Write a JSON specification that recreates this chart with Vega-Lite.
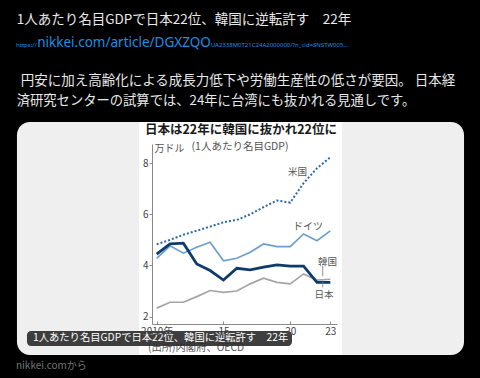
{
  "$schema": "https://vega.github.io/schema/vega-lite/v6.json",
  "width": 185,
  "height": 180,
  "autosize": {"type": "none"},
  "padding": {"left": 152, "top": 144, "right": 143, "bottom": 54},
  "background": "#000000",
  "config": {
    "view": {"stroke": null},
    "text": {"font": "Noto Sans CJK JP"}
  },
  "datasets": {
    "gdp": [
      {"country": "日本", "year": 2010, "gdp": 4.44},
      {"country": "日本", "year": 2011, "gdp": 4.84},
      {"country": "日本", "year": 2012, "gdp": 4.87},
      {"country": "日本", "year": 2013, "gdp": 4.06},
      {"country": "日本", "year": 2014, "gdp": 3.80},
      {"country": "日本", "year": 2015, "gdp": 3.43},
      {"country": "日本", "year": 2016, "gdp": 3.89},
      {"country": "日本", "year": 2017, "gdp": 3.83},
      {"country": "日本", "year": 2018, "gdp": 3.93},
      {"country": "日本", "year": 2019, "gdp": 4.02},
      {"country": "日本", "year": 2020, "gdp": 3.97},
      {"country": "日本", "year": 2021, "gdp": 3.97},
      {"country": "日本", "year": 2022, "gdp": 3.34},
      {"country": "日本", "year": 2023, "gdp": 3.34},
      {"country": "韓国", "year": 2010, "gdp": 2.33},
      {"country": "韓国", "year": 2011, "gdp": 2.56},
      {"country": "韓国", "year": 2012, "gdp": 2.56},
      {"country": "韓国", "year": 2013, "gdp": 2.78},
      {"country": "韓国", "year": 2014, "gdp": 3.02},
      {"country": "韓国", "year": 2015, "gdp": 2.95},
      {"country": "韓国", "year": 2016, "gdp": 3.00},
      {"country": "韓国", "year": 2017, "gdp": 3.28},
      {"country": "韓国", "year": 2018, "gdp": 3.50},
      {"country": "韓国", "year": 2019, "gdp": 3.34},
      {"country": "韓国", "year": 2020, "gdp": 3.28},
      {"country": "韓国", "year": 2021, "gdp": 3.67},
      {"country": "韓国", "year": 2022, "gdp": 3.43},
      {"country": "韓国", "year": 2023, "gdp": 3.46},
      {"country": "ドイツ", "year": 2010, "gdp": 4.28},
      {"country": "ドイツ", "year": 2011, "gdp": 4.77},
      {"country": "ドイツ", "year": 2012, "gdp": 4.48},
      {"country": "ドイツ", "year": 2013, "gdp": 4.71},
      {"country": "ドイツ", "year": 2014, "gdp": 4.91},
      {"country": "ドイツ", "year": 2015, "gdp": 4.18},
      {"country": "ドイツ", "year": 2016, "gdp": 4.28},
      {"country": "ドイツ", "year": 2017, "gdp": 4.52},
      {"country": "ドイツ", "year": 2018, "gdp": 4.84},
      {"country": "ドイツ", "year": 2019, "gdp": 4.74},
      {"country": "ドイツ", "year": 2020, "gdp": 4.74},
      {"country": "ドイツ", "year": 2021, "gdp": 5.23},
      {"country": "ドイツ", "year": 2022, "gdp": 4.97},
      {"country": "ドイツ", "year": 2023, "gdp": 5.35},
      {"country": "米国", "year": 2010, "gdp": 4.83},
      {"country": "米国", "year": 2011, "gdp": 5.00},
      {"country": "米国", "year": 2012, "gdp": 5.20},
      {"country": "米国", "year": 2013, "gdp": 5.36},
      {"country": "米国", "year": 2014, "gdp": 5.52},
      {"country": "米国", "year": 2015, "gdp": 5.69},
      {"country": "米国", "year": 2016, "gdp": 5.78},
      {"country": "米国", "year": 2017, "gdp": 6.00},
      {"country": "米国", "year": 2018, "gdp": 6.28},
      {"country": "米国", "year": 2019, "gdp": 6.54},
      {"country": "米国", "year": 2020, "gdp": 6.46},
      {"country": "米国", "year": 2021, "gdp": 7.22},
      {"country": "米国", "year": 2022, "gdp": 7.80},
      {"country": "米国", "year": 2023, "gdp": 8.23}
    ]
  },
  "layer": [
    {
      "data": {"values": [{"item": "card"}]},
      "mark": {"type": "rect", "fill": "#efefef", "cornerRadius": 13},
      "encoding": {
        "x": {
          "datum": 1999.54, "type": "quantitative",
          "scale": {"domain": [2009.65, 2023.5], "nice": false, "zero": false},
          "axis": {
            "values": [2010, 2015, 2020, 2023],
            "labelExpr": "datum.value == 2010 ? '2010年' : slice(toString(datum.value), 2)",
            "title": null, "grid": false, "zindex": 1,
            "tickSize": -3, "labelPadding": 5, "labelFlush": false,
            "domainColor": "#8a8a8a", "tickColor": "#8a8a8a",
            "labelColor": "#444444", "labelFontSize": 10, "labelFont": "Noto Sans CJK JP"
          }
        },
        "x2": {"datum": 2033.01},
        "y": {
          "datum": 9.61, "type": "quantitative",
          "scale": {"domain": [1.71, 8.75], "nice": false, "zero": false},
          "axis": {
            "values": [2, 4, 6, 8],
            "title": "万ドル", "titleAngle": 0, "titleAlign": "left", "titleBaseline": "middle",
            "titleX": 2, "titleY": 4, "titleFontSize": 10, "titleFontWeight": "normal",
            "titleColor": "#555555", "titleFont": "Noto Sans CJK JP",
            "grid": false, "zindex": 1,
            "tickSize": 3, "labelPadding": 1,
            "domainColor": "#8a8a8a", "tickColor": "#8a8a8a",
            "labelColor": "#444444", "labelFontSize": 10, "labelFont": "Noto Sans CJK JP"
          }
        },
        "y2": {"datum": 0.498}
      }
    },
    {
      "data": {"values": [{"item": "image"}]},
      "mark": {"type": "rect", "fill": "#ffffff"},
      "encoding": {
        "x": {"datum": 2008.68, "type": "quantitative", "scale": {"domain": [2009.65, 2023.5], "nice": false, "zero": false}},
        "x2": {"datum": 2023.87},
        "y": {"datum": 9.61, "type": "quantitative", "scale": {"domain": [1.71, 8.75], "nice": false, "zero": false}},
        "y2": {"datum": 0.498}
      }
    },
    {
      "data": {"name": "gdp"},
      "transform": [{"filter": "datum.country === '韓国'"}],
      "mark": {"type": "line", "color": "#a5a5a5", "strokeWidth": 1.7},
      "encoding": {
        "x": {"field": "year", "type": "quantitative", "scale": {"domain": [2009.65, 2023.5], "nice": false, "zero": false}},
        "y": {"field": "gdp", "type": "quantitative", "scale": {"domain": [1.71, 8.75], "nice": false, "zero": false}}
      }
    },
    {
      "data": {"name": "gdp"},
      "transform": [{"filter": "datum.country === 'ドイツ'"}],
      "mark": {"type": "line", "color": "#6a9fd0", "strokeWidth": 1.7},
      "encoding": {
        "x": {"field": "year", "type": "quantitative", "scale": {"domain": [2009.65, 2023.5], "nice": false, "zero": false}},
        "y": {"field": "gdp", "type": "quantitative", "scale": {"domain": [1.71, 8.75], "nice": false, "zero": false}}
      }
    },
    {
      "data": {"name": "gdp"},
      "transform": [{"filter": "datum.country === '米国'"}],
      "mark": {"type": "line", "color": "#2a6aa6", "strokeWidth": 2, "strokeDash": [2, 2]},
      "encoding": {
        "x": {"field": "year", "type": "quantitative", "scale": {"domain": [2009.65, 2023.5], "nice": false, "zero": false}},
        "y": {"field": "gdp", "type": "quantitative", "scale": {"domain": [1.71, 8.75], "nice": false, "zero": false}}
      }
    },
    {
      "data": {"name": "gdp"},
      "transform": [{"filter": "datum.country === '日本'"}],
      "mark": {"type": "line", "color": "#0f3b6c", "strokeWidth": 2.8},
      "encoding": {
        "x": {"field": "year", "type": "quantitative", "scale": {"domain": [2009.65, 2023.5], "nice": false, "zero": false}},
        "y": {"field": "gdp", "type": "quantitative", "scale": {"domain": [1.71, 8.75], "nice": false, "zero": false}}
      }
    },
    {
      "data": {"values": [{"t": "日本は22年に韓国に抜かれ22位に"}]},
      "mark": {"type": "text", "fontSize": 12.5, "fontWeight": "bold", "color": "#1a1a1a", "align": "center", "baseline": "middle"},
      "encoding": {
        "text": {"field": "t"},
        "x": {"datum": 2016.31, "type": "quantitative", "scale": {"domain": [2009.65, 2023.5], "nice": false, "zero": false}},
        "y": {"datum": 9.298, "type": "quantitative", "scale": {"domain": [1.71, 8.75], "nice": false, "zero": false}}
      }
    },
    {
      "data": {"values": [{"t": "(1人あたり名目GDP)"}]},
      "mark": {"type": "text", "fontSize": 10.5, "color": "#555555", "align": "center", "baseline": "middle"},
      "encoding": {
        "text": {"field": "t"},
        "x": {"datum": 2016.24, "type": "quantitative", "scale": {"domain": [2009.65, 2023.5], "nice": false, "zero": false}},
        "y": {"datum": 8.644, "type": "quantitative", "scale": {"domain": [1.71, 8.75], "nice": false, "zero": false}}
      }
    },
    {
      "data": {"values": [{"t": "米国"}]},
      "mark": {"type": "text", "fontSize": 9.5, "color": "#555555", "align": "center", "baseline": "middle"},
      "encoding": {
        "text": {"field": "t"},
        "x": {"datum": 2020.54, "type": "quantitative", "scale": {"domain": [2009.65, 2023.5], "nice": false, "zero": false}},
        "y": {"datum": 7.667, "type": "quantitative", "scale": {"domain": [1.71, 8.75], "nice": false, "zero": false}}
      }
    },
    {
      "data": {"values": [{"t": "ドイツ"}]},
      "mark": {"type": "text", "fontSize": 10, "color": "#555555", "align": "center", "baseline": "middle"},
      "encoding": {
        "text": {"field": "t"},
        "x": {"datum": 2021.33, "type": "quantitative", "scale": {"domain": [2009.65, 2023.5], "nice": false, "zero": false}},
        "y": {"datum": 5.504, "type": "quantitative", "scale": {"domain": [1.71, 8.75], "nice": false, "zero": false}}
      }
    },
    {
      "data": {"values": [{"t": "韓国"}]},
      "mark": {"type": "text", "fontSize": 9.5, "color": "#555555", "align": "center", "baseline": "middle"},
      "encoding": {
        "text": {"field": "t"},
        "x": {"datum": 2022.79, "type": "quantitative", "scale": {"domain": [2009.65, 2023.5], "nice": false, "zero": false}},
        "y": {"datum": 4.135, "type": "quantitative", "scale": {"domain": [1.71, 8.75], "nice": false, "zero": false}}
      }
    },
    {
      "data": {"values": [{"t": "日本"}]},
      "mark": {"type": "text", "fontSize": 9.5, "color": "#555555", "align": "center", "baseline": "middle"},
      "encoding": {
        "text": {"field": "t"},
        "x": {"datum": 2022.53, "type": "quantitative", "scale": {"domain": [2009.65, 2023.5], "nice": false, "zero": false}},
        "y": {"datum": 2.845, "type": "quantitative", "scale": {"domain": [1.71, 8.75], "nice": false, "zero": false}}
      }
    },
    {
      "data": {"values": [{"t": "韓国"}]},
      "mark": {"type": "rule", "color": "#777777", "strokeWidth": 0.8},
      "encoding": {
        "x": {"datum": 2022.43, "type": "quantitative", "scale": {"domain": [2009.65, 2023.5], "nice": false, "zero": false}},
        "y": {"datum": 4.0, "type": "quantitative", "scale": {"domain": [1.71, 8.75], "nice": false, "zero": false}},
        "y2": {"datum": 3.575}
      }
    },
    {
      "data": {"values": [{"t": "日本"}]},
      "mark": {"type": "rule", "color": "#777777", "strokeWidth": 0.8},
      "encoding": {
        "x": {"datum": 2022.43, "type": "quantitative", "scale": {"domain": [2009.65, 2023.5], "nice": false, "zero": false}},
        "y": {"datum": 3.41, "type": "quantitative", "scale": {"domain": [1.71, 8.75], "nice": false, "zero": false}},
        "y2": {"datum": 3.14}
      }
    },
    {
      "data": {"values": [{"t": "(出所)内閣府、OECD"}]},
      "mark": {"type": "text", "fontSize": 10.3, "color": "#555555", "align": "left", "baseline": "middle"},
      "encoding": {
        "text": {"field": "t"},
        "x": {"datum": 2009.35, "type": "quantitative", "scale": {"domain": [2009.65, 2023.5], "nice": false, "zero": false}},
        "y": {"datum": 0.76, "type": "quantitative", "scale": {"domain": [1.71, 8.75], "nice": false, "zero": false}}
      }
    },
    {
      "data": {"values": [{"t": "1人あたり名目GDPで日本22位、韓国に逆転許す　22年"}]},
      "mark": {"type": "text", "fontSize": 13.5, "color": "#e7e9ea", "align": "left", "baseline": "middle"},
      "encoding": {
        "text": {"field": "t"},
        "x": {"datum": 1999.52, "type": "quantitative", "scale": {"domain": [2009.65, 2023.5], "nice": false, "zero": false}},
        "y": {"datum": 13.599, "type": "quantitative", "scale": {"domain": [1.71, 8.75], "nice": false, "zero": false}}
      }
    },
    {
      "data": {"values": [{"t": "https://"}]},
      "mark": {"type": "text", "fontSize": 6, "color": "#1d8fe0", "align": "left", "baseline": "alphabetic", "font": "Noto Sans"},
      "encoding": {
        "text": {"field": "t"},
        "x": {"datum": 1999.47, "type": "quantitative", "scale": {"domain": [2009.65, 2023.5], "nice": false, "zero": false}},
        "y": {"datum": 12.532, "type": "quantitative", "scale": {"domain": [1.71, 8.75], "nice": false, "zero": false}}
      }
    },
    {
      "data": {"values": [{"t": "nikkei.com/article/DGXZQO"}]},
      "mark": {"type": "text", "fontSize": 13.5, "color": "#1d8fe0", "align": "left", "baseline": "alphabetic", "font": "Noto Sans"},
      "encoding": {
        "text": {"field": "t"},
        "x": {"datum": 2001.06, "type": "quantitative", "scale": {"domain": [2009.65, 2023.5], "nice": false, "zero": false}},
        "y": {"datum": 12.532, "type": "quantitative", "scale": {"domain": [1.71, 8.75], "nice": false, "zero": false}}
      }
    },
    {
      "data": {"values": [{"t": "UA2338M0T21C24A2000000/?n_cid=SNSTW005…"}]},
      "mark": {"type": "text", "fontSize": 6, "color": "#1d8fe0", "align": "left", "baseline": "alphabetic", "font": "Noto Sans"},
      "encoding": {
        "text": {"field": "t"},
        "x": {"datum": 2014.05, "type": "quantitative", "scale": {"domain": [2009.65, 2023.5], "nice": false, "zero": false}},
        "y": {"datum": 12.532, "type": "quantitative", "scale": {"domain": [1.71, 8.75], "nice": false, "zero": false}}
      }
    },
    {
      "data": {"values": [{"t": "円安に加え高齢化による成長力低下や労働生産性の低さが要因。 日本経"}]},
      "mark": {"type": "text", "fontSize": 13.5, "color": "#e7e9ea", "align": "left", "baseline": "middle"},
      "encoding": {
        "text": {"field": "t"},
        "x": {"datum": 1999.82, "type": "quantitative", "scale": {"domain": [2009.65, 2023.5], "nice": false, "zero": false}},
        "y": {"datum": 11.233, "type": "quantitative", "scale": {"domain": [1.71, 8.75], "nice": false, "zero": false}}
      }
    },
    {
      "data": {"values": [{"t": "済研究センターの試算では、24年に台湾にも抜かれる見通しです。"}]},
      "mark": {"type": "text", "fontSize": 13.3, "color": "#e7e9ea", "align": "left", "baseline": "middle"},
      "encoding": {
        "text": {"field": "t"},
        "x": {"datum": 1999.52, "type": "quantitative", "scale": {"domain": [2009.65, 2023.5], "nice": false, "zero": false}},
        "y": {"datum": 10.432, "type": "quantitative", "scale": {"domain": [1.71, 8.75], "nice": false, "zero": false}}
      }
    },
    {
      "data": {"values": [{"item": "caption box"}]},
      "mark": {"type": "rect", "fill": "#2e2e2e", "opacity": 0.92, "cornerRadius": 4},
      "encoding": {
        "x": {"datum": 2000.29, "type": "quantitative", "scale": {"domain": [2009.65, 2023.5], "nice": false, "zero": false}},
        "x2": {"datum": 2020.13},
        "y": {"datum": 1.437, "type": "quantitative", "scale": {"domain": [1.71, 8.75], "nice": false, "zero": false}},
        "y2": {"datum": 0.85}
      }
    },
    {
      "data": {"values": [{"t": "1人あたり名目GDPで日本22位、韓国に逆転許す　22年"}]},
      "mark": {"type": "text", "fontSize": 10.3, "color": "#ffffff", "align": "left", "baseline": "middle"},
      "encoding": {
        "text": {"field": "t"},
        "x": {"datum": 2000.74, "type": "quantitative", "scale": {"domain": [2009.65, 2023.5], "nice": false, "zero": false}},
        "y": {"datum": 1.143, "type": "quantitative", "scale": {"domain": [1.71, 8.75], "nice": false, "zero": false}}
      }
    },
    {
      "data": {"values": [{"t": "nikkei.comから"}]},
      "mark": {"type": "text", "fontSize": 10, "color": "#71767b", "align": "left", "baseline": "middle"},
      "encoding": {
        "text": {"field": "t"},
        "x": {"datum": 1999.47, "type": "quantitative", "scale": {"domain": [2009.65, 2023.5], "nice": false, "zero": false}},
        "y": {"datum": 0.048, "type": "quantitative", "scale": {"domain": [1.71, 8.75], "nice": false, "zero": false}}
      }
    }
  ]
}
